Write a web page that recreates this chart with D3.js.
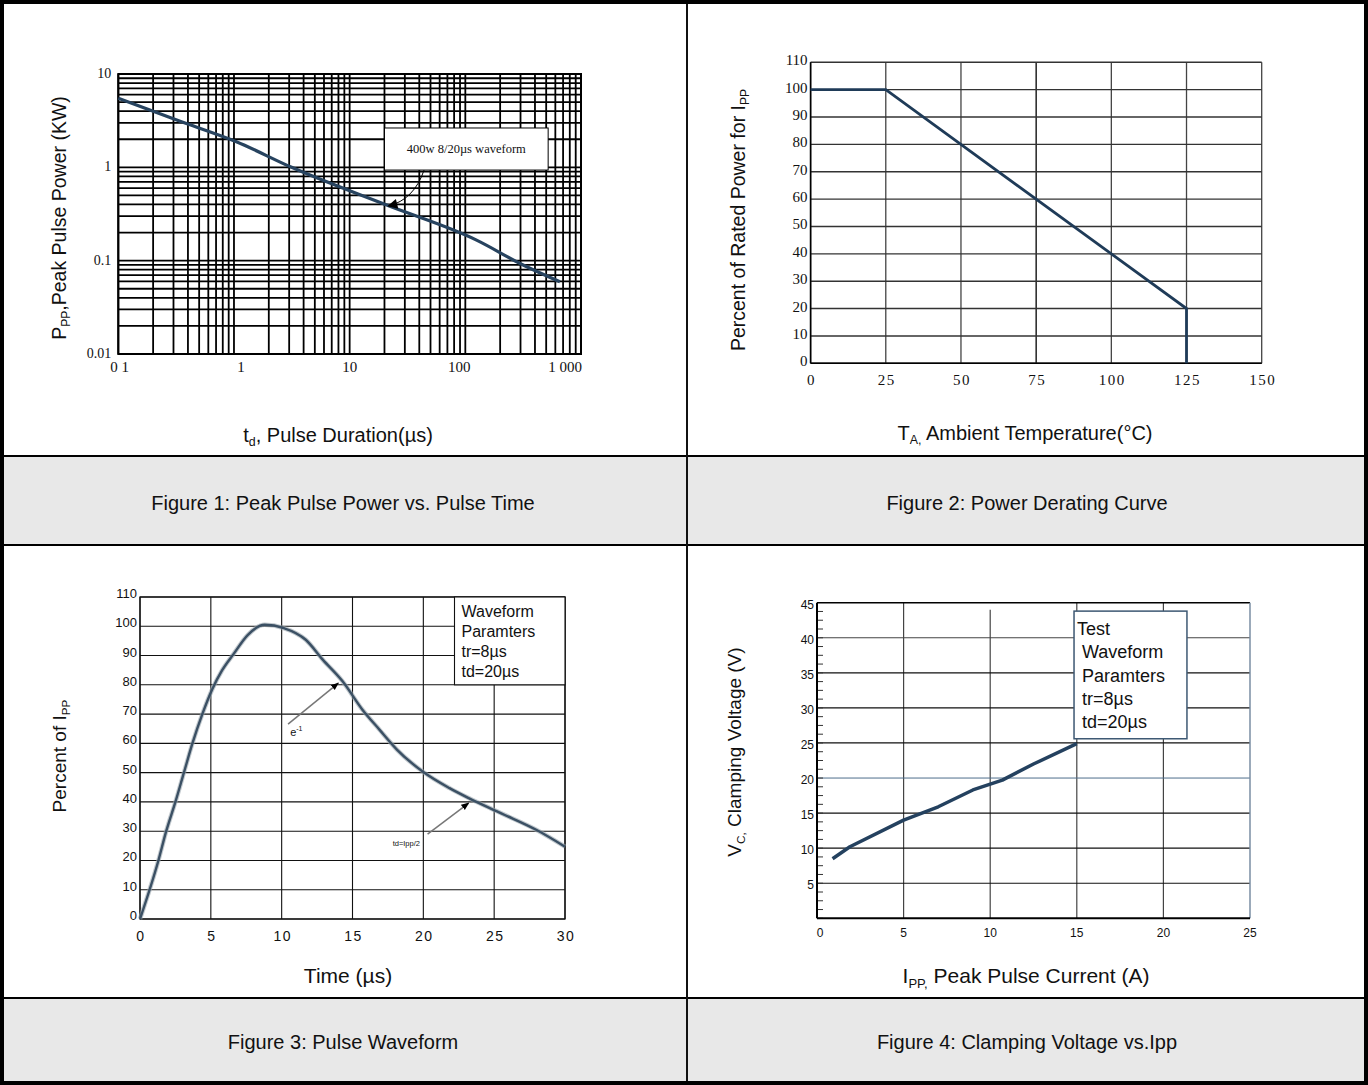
<!DOCTYPE html>
<html>
<head>
<meta charset="utf-8">
<script src="https://cdn.jsdelivr.net/npm/d3@7"></script>
<style>
body{margin:0;background:#fff}
svg{display:block}
text{font-family:"Liberation Sans",Arial,sans-serif;fill:#111}
.serif{font-family:"Liberation Serif","Times New Roman",serif}
</style>
</head>
<body>
<div id="chart"></div>
<script>
// ---- data ----
// Figure 1 : peak pulse power vs pulse duration (log-log)
var fig1Duration = [0.1, 0.32, 1.05, 3.15, 20.9, 125, 316, 657];
var fig1Power    = [5.49, 3.21, 1.88, 1.0, 0.394, 0.166, 0.0898, 0.0594];
var fig1XTicks   = [0.1, 1, 10, 100, 1000];
var fig1XLabels  = ["0 1", "1", "10", "100", "1 000"];
var fig1YTicks   = [0.01, 0.1, 1, 10];
var fig1YLabels  = ["0.01", "0.1", "1", "10"];

// Figure 2 : derating curve
var fig2Temp     = [0, 25, 125, 125];
var fig2Percent  = [100, 100, 20, 0];
var fig2XTicks   = [0, 25, 50, 75, 100, 125, 150];
var fig2YTicks   = [0, 10, 20, 30, 40, 50, 60, 70, 80, 90, 100, 110];

// Figure 3 : pulse waveform
var fig3Time     = [0, 1.3, 1.85, 2.5, 3.1, 3.7, 4.4, 5.1, 5.8, 6.6, 7.6, 8.8, 10.15, 11.7, 12.9, 14.3, 15.7, 16.9, 18.15, 20, 21.85, 23.2, 25.5, 28, 30];
var fig3Percent  = [0, 20, 30, 40, 50, 60, 70, 78.5, 85, 90.5, 97, 100.5, 99.4, 95.4, 88.6, 81.2, 71.5, 64.7, 57.8, 50.2, 44.7, 41.3, 36.1, 30.4, 24.7];
var fig3XTicks   = [0, 5, 10, 15, 20, 25, 30];
var fig3YTicks   = [0, 10, 20, 30, 40, 50, 60, 70, 80, 90, 100, 110];
var fig3Legend   = ["Waveform", "Paramters", "tr=8\u00b5s", "td=20\u00b5s"];

// Figure 4 : clamping voltage vs Ipp
var fig4Current  = [0.9, 1.9, 5, 7, 9, 10.7, 12.5, 15];
var fig4Voltage  = [8.5, 10.2, 14, 15.9, 18.3, 19.7, 22, 24.9];
var fig4XTicks   = [0, 5, 10, 15, 20, 25];
var fig4YTicks   = [5, 10, 15, 20, 25, 30, 35, 40, 45];
var fig4Legend   = ["Test", " Waveform", " Paramters", " tr=8\u00b5s", " td=20\u00b5s"];

var captions = ["Figure 1: Peak Pulse Power vs. Pulse Time", "Figure 2: Power Derating Curve",
                "Figure 3: Pulse Waveform", "Figure 4: Clamping Voltage vs.Ipp"];

var W = 1368, H = 1085;

var svg = d3.select("#chart").append("svg")
    .attr("width", W).attr("height", H);

var defs = svg.append("defs");
defs.append("marker")
    .attr("id", "arrow")
    .attr("viewBox", "0 0 10 10")
    .attr("refX", 9).attr("refY", 5)
    .attr("markerWidth", 8).attr("markerHeight", 8)
    .attr("markerUnits", "userSpaceOnUse")
    .attr("orient", "auto")
  .append("path").attr("d", "M0,1 L10,5 L0,9 z").attr("fill", "#000");
defs.append("marker")
    .attr("id", "arrowBig")
    .attr("viewBox", "0 0 10 10")
    .attr("refX", 9).attr("refY", 5)
    .attr("markerWidth", 12).attr("markerHeight", 10)
    .attr("markerUnits", "userSpaceOnUse")
    .attr("orient", "auto")
  .append("path").attr("d", "M0,0 L10,5 L0,10 z").attr("fill", "#000");

// ---- table frame ----
svg.append("rect").attr("x", 0).attr("y", 456).attr("width", W).attr("height", 89).attr("fill", "#e8e8e8");
svg.append("rect").attr("x", 0).attr("y", 998).attr("width", W).attr("height", 87).attr("fill", "#e8e8e8");

function hline(y, w) {
  svg.append("line").attr("x1", 0).attr("x2", W).attr("y1", y).attr("y2", y)
     .attr("stroke", "#000").attr("stroke-width", w);
}

function caption(txt, cx, y) {
  svg.append("text").attr("x", cx).attr("y", y)
     .attr("text-anchor", "middle").attr("font-size", 20).text(txt);
}

// title with a subscript part: parts = [[text, isSub], ...]
function title(g, parts, x, y, size, rotate) {
  var t = g.append("text")
      .attr("text-anchor", "middle")
      .attr("font-size", size)
      .attr("transform", "translate(" + x + "," + y + ")" + (rotate ? " rotate(-90)" : ""));
  parts.forEach(function(p, i) {
    var s = t.append("tspan").text(p[0]);
    if (p[1]) { s.attr("font-size", size * 0.62).attr("dy", size * 0.22); }
    else if (i > 0 && parts[i - 1][1]) { s.attr("dy", -size * 0.22); }
  });
  return t;
}

// ---------------- Figure 1 ----------------
function figure1() {
  var g = svg.append("g");
  var x = d3.scaleLog().domain([0.1, 1000]).range([118.3, 581]);
  var y = d3.scaleLog().domain([0.01, 10]).range([354, 74]);

  g.selectAll(".vg").data(x.ticks()).enter().append("line")
    .attr("x1", function(d) { return x(d); }).attr("x2", function(d) { return x(d); })
    .attr("y1", y(10)).attr("y2", y(0.01))
    .attr("stroke", "#000").attr("stroke-width", 1.8);
  g.selectAll(".hg").data(y.ticks()).enter().append("line")
    .attr("y1", function(d) { return y(d); }).attr("y2", function(d) { return y(d); })
    .attr("x1", x(0.1)).attr("x2", x(1000))
    .attr("stroke", "#000").attr("stroke-width", 1.8);
  g.append("rect").attr("x", x(0.1)).attr("y", y(10))
    .attr("width", x(1000) - x(0.1)).attr("height", y(0.01) - y(10))
    .attr("fill", "none").attr("stroke", "#000").attr("stroke-width", 2);

  var line = d3.line()
      .x(function(d, i) { return x(fig1Duration[i]); })
      .y(function(d, i) { return y(fig1Power[i]); })
      .curve(d3.curveMonotoneX);
  g.append("path").datum(fig1Duration).attr("d", line)
    .attr("fill", "none").attr("stroke", "#27435f").attr("stroke-width", 3.2);

  // annotation box
  g.append("rect").attr("x", x(20)).attr("y", y(2.64))
    .attr("width", x(520) - x(20)).attr("height", y(0.935) - y(2.64))
    .attr("fill", "#fff").attr("stroke", "#000").attr("stroke-width", 1);
  g.append("text").attr("class", "serif")
    .attr("x", (x(20) + x(520)) / 2).attr("y", (y(2.64) + y(0.935)) / 2 + 4)
    .attr("text-anchor", "middle").attr("font-size", 12.5)
    .text("400w 8/20\u00b5s waveform");
  g.append("path")
    .attr("d", "M" + x(44) + "," + y(0.935) + " Q" + x(36) + "," + y(0.45) + " " + x(21.6) + "," + y(0.385))
    .attr("fill", "none").attr("stroke", "#000").attr("stroke-width", 1)
    .attr("marker-end", "url(#arrowBig)");

  // tick labels
  g.selectAll(".yl").data(fig1YTicks).enter().append("text").attr("class", "serif")
    .attr("x", x(0.1) - 7).attr("y", function(d) { return y(d) + 4; })
    .attr("text-anchor", "end").attr("font-size", 14)
    .text(function(d, i) { return fig1YLabels[i]; });
  g.selectAll(".xl").data(fig1XTicks).enter().append("text").attr("class", "serif")
    .attr("x", function(d, i) { return x(d) + (i == 0 ? -8 : i == 4 ? -16 : i == 1 ? 7 : i == 3 ? -6 : 0); })
    .attr("y", 372)
    .attr("text-anchor", function(d, i) { return i == 0 ? "start" : "middle"; })
    .attr("font-size", 15)
    .text(function(d, i) { return fig1XLabels[i]; });

  title(g, [["P", false], ["PP", true], [",Peak Pulse Power (KW)", false]], 66, 218, 19.5, true);
  title(g, [["t", false], ["d", true], [", Pulse Duration(\u00b5s)", false]], 338, 442, 20, false);
}

// ---------------- Figure 2 ----------------
function figure2() {
  var g = svg.append("g");
  var x = d3.scaleLinear().domain([0, 150]).range([810.6, 1261.7]);
  var y = d3.scaleLinear().domain([0, 110]).range([363.3, 62.3]);

  g.selectAll(".vg").data(fig2XTicks).enter().append("line")
    .attr("x1", function(d) { return x(d); }).attr("x2", function(d) { return x(d); })
    .attr("y1", y(110)).attr("y2", y(0))
    .attr("stroke", function(d) { return d == 75 ? "#000" : "#444"; }).attr("stroke-width", 1.3);
  g.selectAll(".hg").data(fig2YTicks).enter().append("line")
    .attr("y1", function(d) { return y(d); }).attr("y2", function(d) { return y(d); })
    .attr("x1", x(0)).attr("x2", x(150))
    .attr("stroke", "#333").attr("stroke-width", 1.4);
  g.append("line").attr("x1", x(0)).attr("x2", x(0)).attr("y1", y(110)).attr("y2", y(0))
    .attr("stroke", "#000").attr("stroke-width", 1.6);
  g.append("line").attr("x1", x(0)).attr("x2", x(150)).attr("y1", y(0)).attr("y2", y(0))
    .attr("stroke", "#000").attr("stroke-width", 1.6);

  var line = d3.line()
      .x(function(d, i) { return x(fig2Temp[i]); })
      .y(function(d, i) { return y(fig2Percent[i]); });
  g.append("path").datum(fig2Temp).attr("d", line)
    .attr("fill", "none").attr("stroke", "#1f3b58").attr("stroke-width", 2.8);

  g.selectAll(".yl").data(fig2YTicks).enter().append("text").attr("class", "serif")
    .attr("x", x(0) - 3).attr("y", function(d) { return y(d) + 3; })
    .attr("text-anchor", "end").attr("font-size", 15)
    .text(function(d) { return d; });
  g.selectAll(".xl").data(fig2XTicks).enter().append("text").attr("class", "serif")
    .attr("x", function(d) { return x(d) + 1; }).attr("y", 385)
    .attr("text-anchor", "middle").attr("font-size", 15).attr("letter-spacing", 1.5)
    .text(function(d) { return d; });

  title(g, [["Percent of Rated Power for I", false], ["PP", true]], 745, 220, 19.5, true);
  title(g, [["T", false], ["A,", true], [" Ambient Temperature(\u00b0C)", false]], 1025, 440, 20, false);
}

// ---------------- Figure 3 ----------------
function figure3() {
  var g = svg.append("g");
  var x = d3.scaleLinear().domain([0, 30]).range([140, 565]);
  var y = d3.scaleLinear().domain([0, 110]).range([919, 597]);

  g.selectAll(".vg").data(fig3XTicks).enter().append("line")
    .attr("x1", function(d) { return x(d); }).attr("x2", function(d) { return x(d); })
    .attr("y1", y(110)).attr("y2", y(0))
    .attr("stroke", "#111").attr("stroke-width", 1.1);
  g.selectAll(".hg").data(fig3YTicks).enter().append("line")
    .attr("y1", function(d) { return y(d); }).attr("y2", function(d) { return y(d); })
    .attr("x1", x(0)).attr("x2", x(30))
    .attr("stroke", "#111").attr("stroke-width", 1.1);
  g.append("rect").attr("x", x(0)).attr("y", y(110))
    .attr("width", x(30) - x(0)).attr("height", y(0) - y(110))
    .attr("fill", "none").attr("stroke", "#111").attr("stroke-width", 1.3);

  // legend box
  g.append("rect").attr("x", x(22.2)).attr("y", y(110))
    .attr("width", x(30) - x(22.2)).attr("height", y(80) - y(110))
    .attr("fill", "#fff").attr("stroke", "#111").attr("stroke-width", 1.1);
  g.selectAll(".lg").data(fig3Legend).enter().append("text")
    .attr("x", x(22.2) + 7).attr("y", function(d, i) { return y(110) + 20 + i * 20; })
    .attr("font-size", 16).text(function(d) { return d; });

  var line = d3.line()
      .x(function(d, i) { return x(fig3Time[i]); })
      .y(function(d, i) { return y(fig3Percent[i]); })
      .curve(d3.curveMonotoneX);
  g.append("path").datum(fig3Time).attr("d", line)
    .attr("fill", "none").attr("stroke", "#9aa5ae").attr("stroke-width", 4.5).attr("opacity", 0.6);
  g.append("path").datum(fig3Time).attr("d", line)
    .attr("fill", "none").attr("stroke", "#3b5064").attr("stroke-width", 2.4);

  // arrows
  g.append("line").attr("x1", x(10.45)).attr("y1", y(66.6)).attr("x2", x(14.0)).attr("y2", y(80.6))
    .attr("stroke", "#777").attr("stroke-width", 1.5).attr("marker-end", "url(#arrow)");
  g.append("line").attr("x1", x(20.3)).attr("y1", y(29)).attr("x2", x(23.2)).attr("y2", y(39.6))
    .attr("stroke", "#777").attr("stroke-width", 1.5).attr("marker-end", "url(#arrow)");
  var e = g.append("text").attr("x", x(10.6)).attr("y", y(62.6)).attr("font-size", 11);
  e.append("tspan").text("e");
  e.append("tspan").attr("font-size", 7).attr("dy", -5).text("-1");
  g.append("text").attr("x", x(18.8)).attr("y", y(24.8)).attr("text-anchor", "middle")
    .attr("font-size", 7.5).attr("fill", "#333").text("td=Ipp/2");

  g.selectAll(".yl").data(fig3YTicks).enter().append("text")
    .attr("x", x(0) - 3).attr("y", function(d) { return y(d) + 1; })
    .attr("text-anchor", "end").attr("font-size", 13)
    .text(function(d) { return d; });
  g.selectAll(".xl").data(fig3XTicks).enter().append("text")
    .attr("x", function(d) { return x(d) + 1; }).attr("y", 941)
    .attr("text-anchor", "middle").attr("font-size", 14).attr("letter-spacing", 1.5)
    .text(function(d) { return d; });

  title(g, [["Percent of I", false], ["PP", true]], 66, 756, 19, true);
  title(g, [["Time (\u00b5s)", false]], 348, 983, 21, false);
}

// ---------------- Figure 4 ----------------
function figure4() {
  var g = svg.append("g");
  var x = d3.scaleLinear().domain([0, 25]).range([817, 1250]);
  var y = d3.scaleLinear().domain([0, 45]).range([918.3, 602.7]);

  g.selectAll(".vg").data([5, 10, 15, 20]).enter().append("line")
    .attr("x1", function(d) { return x(d); }).attr("x2", function(d) { return x(d); })
    .attr("y1", function(d) { return d == 10 ? y(44) : y(45); }).attr("y2", y(0))
    .attr("stroke", "#444").attr("stroke-width", 1.2);
  g.selectAll(".hg").data(fig4YTicks.slice(0, 8)).enter().append("line")
    .attr("y1", function(d) { return y(d); }).attr("y2", function(d) { return y(d); })
    .attr("x1", x(0)).attr("x2", x(25))
    .attr("stroke", function(d) { return d == 20 ? "#4d6d8c" : d == 40 ? "#444" : "#111"; })
    .attr("stroke-width", function(d) { return d == 20 ? 1 : 1.2; });
  // minor ticks
  g.selectAll(".mt").data(d3.range(0, 45, 1.25)).enter().append("line")
    .attr("x1", x(0)).attr("x2", x(0) + 6)
    .attr("y1", function(d) { return y(d); }).attr("y2", function(d) { return y(d); })
    .attr("stroke", "#333").attr("stroke-width", 1);
  g.append("line").attr("x1", x(0)).attr("x2", x(25)).attr("y1", y(45)).attr("y2", y(45))
    .attr("stroke", "#000").attr("stroke-width", 1.6);
  g.append("line").attr("x1", x(25)).attr("x2", x(25)).attr("y1", y(45)).attr("y2", y(0))
    .attr("stroke", "#7a8ea3").attr("stroke-width", 1.5);
  g.append("line").attr("x1", x(0)).attr("x2", x(0)).attr("y1", y(45)).attr("y2", y(0))
    .attr("stroke", "#000").attr("stroke-width", 2);
  g.append("line").attr("x1", x(0)).attr("x2", x(25)).attr("y1", y(0)).attr("y2", y(0))
    .attr("stroke", "#000").attr("stroke-width", 2);

  var line = d3.line()
      .x(function(d, i) { return x(fig4Current[i]); })
      .y(function(d, i) { return y(fig4Voltage[i]); });
  g.append("path").datum(fig4Current).attr("d", line)
    .attr("fill", "none").attr("stroke", "#24415f").attr("stroke-width", 3.5)
    .attr("stroke-linejoin", "round");

  // legend box
  g.append("rect").attr("x", x(14.84)).attr("y", y(43.8))
    .attr("width", x(21.36) - x(14.84)).attr("height", y(25.6) - y(43.8))
    .attr("fill", "#fff").attr("stroke", "#3d5873").attr("stroke-width", 1.5);
  g.selectAll(".lg").data(fig4Legend).enter().append("text")
    .attr("x", x(14.84) + 3).attr("y", function(d, i) { return y(43.8) + 24 + i * 23.3; })
    .attr("font-size", 18).style("white-space", "pre")
    .text(function(d) { return d; });

  g.selectAll(".yl").data(fig4YTicks).enter().append("text")
    .attr("x", x(0) - 3).attr("y", function(d) { return y(d) + 6; })
    .attr("text-anchor", "end").attr("font-size", 12)
    .text(function(d) { return d; });
  g.selectAll(".xl").data(fig4XTicks).enter().append("text")
    .attr("x", function(d) { return x(d) + (d == 0 ? 3 : 0); }).attr("y", 937)
    .attr("text-anchor", "middle").attr("font-size", 12)
    .text(function(d) { return d; });

  title(g, [["V", false], ["C,", true], [" Clamping Voltage (V)", false]], 741, 752, 19, true);
  title(g, [["I", false], ["PP,", true], [" Peak Pulse Current (A)", false]], 1026, 983, 21, false);
}

figure1();
figure2();
figure3();
figure4();

caption(captions[0], 343, 510);
caption(captions[1], 1027, 510);
caption(captions[2], 343, 1049);
caption(captions[3], 1027, 1049);

// frame lines on top
hline(456, 2.2);
hline(545, 2.2);
hline(998, 2.2);
svg.append("line").attr("x1", 687).attr("x2", 687).attr("y1", 0).attr("y2", H)
   .attr("stroke", "#111").attr("stroke-width", 2);
svg.append("rect").attr("x", 2).attr("y", 2).attr("width", W - 4).attr("height", H - 4)
   .attr("fill", "none").attr("stroke", "#000").attr("stroke-width", 4);
</script>
</body>
</html>
